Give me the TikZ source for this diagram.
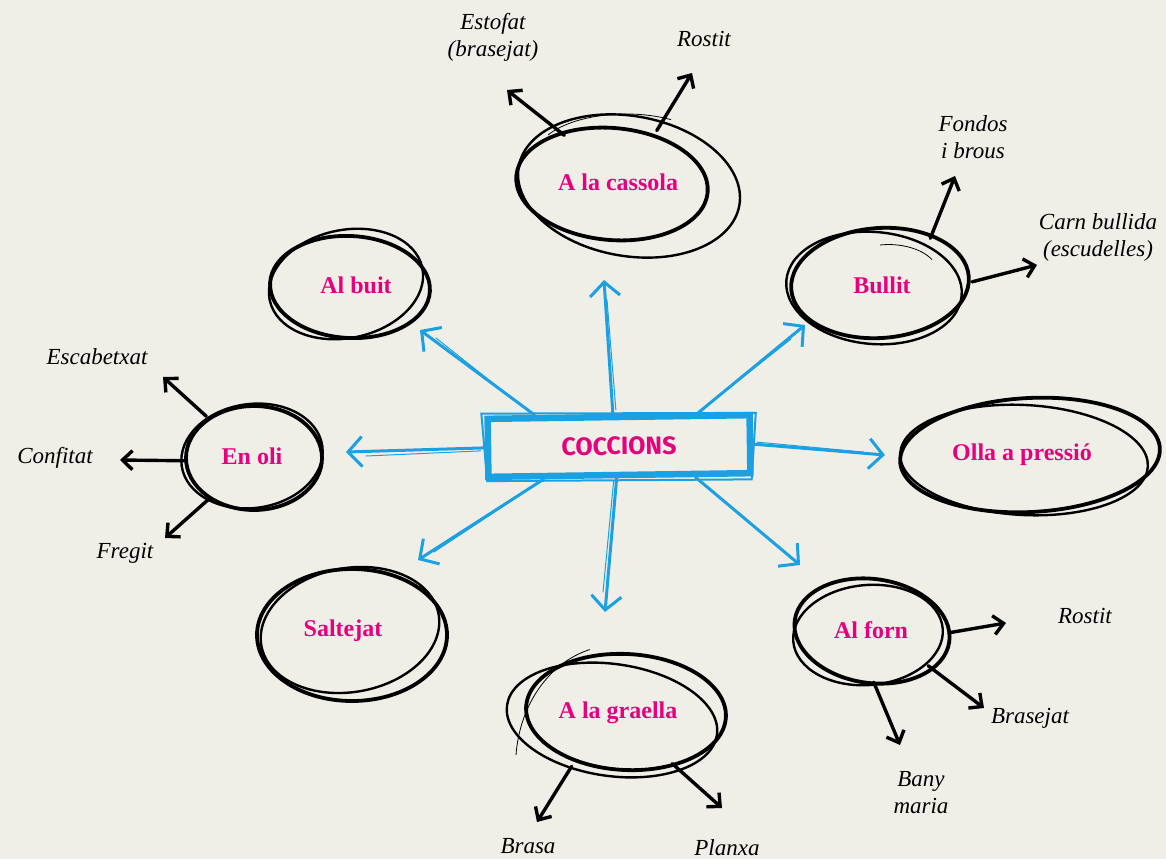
\documentclass[tikz,border=0pt]{standalone}
\usepackage{fontspec}
\setmainfont{Liberation Serif}
\newfontfamily\markerfont{Fira Sans}
\usetikzlibrary{arrows.meta,shapes.geometric,calc}
\definecolor{bgc}{HTML}{F0EFE7}
\definecolor{pinkc}{HTML}{E5007D}
\definecolor{bluec}{HTML}{1BA1E2}
\begin{document}
\begin{tikzpicture}[x=1pt,y=-1pt,
 ring/.style={ellipse, inner sep=0pt, text=pinkc, font=\fontsize{24}{26}\selectfont\bfseries},
 lbl/.style={font=\fontsize{23}{27}\selectfont\itshape, align=center, text=black, inner sep=0pt},
 ringmain/.style={line width=3.8pt, black},
 ringsec/.style={line width=2.4pt, black},
 ringthin/.style={line width=0.8pt, black},
 bluearr/.style={bluec, line width=3pt, line cap=round, -{Straight Barb[length=14pt,width=30pt]}},
 bluethin/.style={bluec, line width=1pt, line cap=round},
 blackarr/.style={black, line width=3.4pt, line cap=round, -{Straight Barb[length=10pt,width=19pt]}},
]
\fill[bgc] (0,0) rectangle (1166,859);
\useasboundingbox (0,0) rectangle (1166,859);

% centre box
\node[draw=bluec, fill=bgc, line width=6.5pt, rotate=0.8, minimum width=262pt, minimum height=58pt,
      text=pinkc, font=\markerfont\bfseries\fontsize{25}{28}\selectfont] (coc) at (619,446) {COCCIONS};
\draw[bluec, line width=2pt] ($(coc.north west)+(-3,-2)$) -- ($(coc.north east)+(3,1)$) -- ($(coc.south east)+(-2,3)$) -- ($(coc.south west)+(2,1)$) -- cycle;

% ring nodes
\node[ring, minimum width=192pt, minimum height=112pt] (cas) at (618,182) {A la cassola};
\node[ring, minimum width=164pt, minimum height=104pt] (buit) at (356,285) {Al buit};
\node[ring, minimum width=180pt, minimum height=110pt] (bul) at (882,285) {Bullit};
\node[ring, minimum width=136pt, minimum height=106pt] (oli) at (252,456) {En oli};
\node[ring, minimum width=260pt, minimum height=116pt] (olla) at (1022,455) {Olla a pressió};
\node[ring, minimum width=190pt, minimum height=132pt] (salt) at (343,631) {Saltejat};
\node[ring, minimum width=200pt, minimum height=120pt] (gra) at (618,713) {A la graella};
\node[ring, minimum width=156pt, minimum height=104pt] (forn) at (871,630) {Al forn};

% hand-drawn rings
\draw[ringmain, rotate around={-5:(612,184)}] (612,184) ellipse [x radius=96, y radius=56];
\draw[ringsec, rotate around={-10:(629,186)}] (629,186) ellipse [x radius=112, y radius=70];
\draw[ringthin] (548,135) arc[start angle=-150, end angle=-60, x radius=90, y radius=42];

\draw[ringmain, rotate around={-3:(350,287)}] (350,287) ellipse [x radius=80, y radius=51];
\draw[ringsec, rotate around={12:(346,284)}] (346,284) ellipse [x radius=78, y radius=54];

\draw[ringmain, rotate around={4:(880,283)}] (880,283) ellipse [x radius=89, y radius=55];
\draw[ringsec, rotate around={-5:(874,288)}] (874,288) ellipse [x radius=88, y radius=56];
\draw[ringthin] (880,245) arc[start angle=-100, end angle=-30, x radius=50, y radius=30];

\draw[ringmain] (254,458) ellipse [x radius=68, y radius=52];
\draw[ringsec, rotate around={8:(252,456)}] (252,456) ellipse [x radius=71, y radius=52];

\draw[ringmain, rotate around={3:(1030,455)}] (1030,455) ellipse [x radius=130, y radius=57];
\draw[ringsec, rotate around={-3:(1024,460)}] (1024,460) ellipse [x radius=124, y radius=55];

\draw[ringmain] (352,635) ellipse [x radius=95, y radius=66];
\draw[ringsec, rotate around={10:(350,630)}] (350,630) ellipse [x radius=90, y radius=62];

\draw[ringmain, rotate around={-3:(626,712)}] (626,712) ellipse [x radius=100, y radius=58];
\draw[ringsec, rotate around={-8:(612,720)}] (612,720) ellipse [x radius=106, y radius=56];
\draw[ringthin] (516,755) arc[start angle=-175, end angle=-105, x radius=100, y radius=120];

\draw[ringmain, rotate around={-8:(872,631)}] (872,631) ellipse [x radius=78, y radius=52];
\draw[ringsec, rotate around={5:(868,635)}] (868,635) ellipse [x radius=75, y radius=50];

% blue arrows
\coordinate (bUp) at (604,280);
\coordinate (bUL) at (420,330);
\coordinate (bUR) at (805,325);
\coordinate (bL) at (346,452);
\coordinate (bR) at (885,455);
\coordinate (bDL) at (418,560);
\coordinate (bD) at (605,612);
\coordinate (bDR) at (800,565);
\draw[bluearr] (coc.100) -- (bUp);
\draw[bluearr] (coc.159) -- (bUL);
\draw[bluearr] (coc.22) -- (bUR);
\draw[bluearr] (coc.180) -- (bL);
\draw[bluearr] (coc.0) -- (bR);
\draw[bluearr] (coc.203) -- (bDL);
\draw[bluearr] (coc.265) -- (bD);
\draw[bluearr] (coc.337) -- (bDR);
\draw[bluethin] ($(coc.100)+(3,-4)$) -- ($(bUp)+(3,20)$);
\draw[bluethin] ($(coc.159)+(-4,-2)$) -- ($(bUL)+(16,8)$);
\draw[bluethin] ($(coc.22)+(2,-2)$) -- ($(bUR)+(-14,14)$);
\draw[bluethin] ($(coc.180)+(-4,3)$) -- ($(bL)+(20,4)$);
\draw[bluethin] ($(coc.0)+(4,-2)$) -- ($(bR)+(-22,-3)$);
\draw[bluethin] ($(coc.203)+(-4,3)$) -- ($(bDL)+(16,-8)$);
\draw[bluethin] ($(coc.265)+(-3,3)$) -- ($(bD)+(-2,-20)$);
\draw[bluethin] ($(coc.337)+(3,3)$) -- ($(bDR)+(-14,-12)$);

% labels and black arrows
\node[lbl] (estofat) at (493,37) {Estofat\\(brasejat)};
\node[lbl] (rostit1) at (704,39) {Rostit};
\coordinate (tEst) at (507,90);
\coordinate (tRos1) at (692,73);
\draw[blackarr] (cas.139) -- (tEst);
\draw[blackarr] (cas.53) -- (tRos1);

\node[lbl] (fondos) at (973,137) {Fondos\\i brous};
\node[lbl] (carn) at (1098,237) {Carn bullida\\(escudelles)};
\coordinate (tFon) at (955,176);
\coordinate (tCarn) at (1037,265);
\draw[blackarr] (bul.44) -- (tFon);
\draw[blackarr] (bul.2) -- (tCarn);

\node[lbl] (escab) at (97,357) {Escabetxat};
\node[lbl] (confit) at (55,458) {Confitat};
\node[lbl] (fregit) at (125,553) {Fregit};
\coordinate (tEsc) at (163,377);
\coordinate (tConf) at (120,460);
\coordinate (tFreg) at (165,538);
\draw[blackarr] (oli.139) -- (tEsc);
\draw[blackarr] (oli.184) -- (tConf);
\draw[blackarr] (oli.225) -- (tFreg);

\node[lbl] (rostit2) at (1085,616) {Rostit};
\node[lbl] (brasejat) at (1030,718) {Brasejat};
\node[lbl] (bany) at (921,793) {Bany\\maria};
\coordinate (tRos2) at (1006,623);
\coordinate (tBras) at (984,708);
\coordinate (tBany) at (900,745);
\draw[blackarr] (forn.358) -- (tRos2);
\draw[blackarr] (forn.328) -- (tBras);
\draw[blackarr] (forn.273) -- (tBany);

\node[lbl] (brasa) at (528,846) {Brasa};
\node[lbl] (planxa) at (727,848) {Planxa};
\coordinate (tBrasa) at (537,822);
\coordinate (tPlan) at (722,808);
\draw[blackarr] (gra.229) -- (tBrasa);
\draw[blackarr] (gra.317) -- (tPlan);
\end{tikzpicture}
\end{document}
